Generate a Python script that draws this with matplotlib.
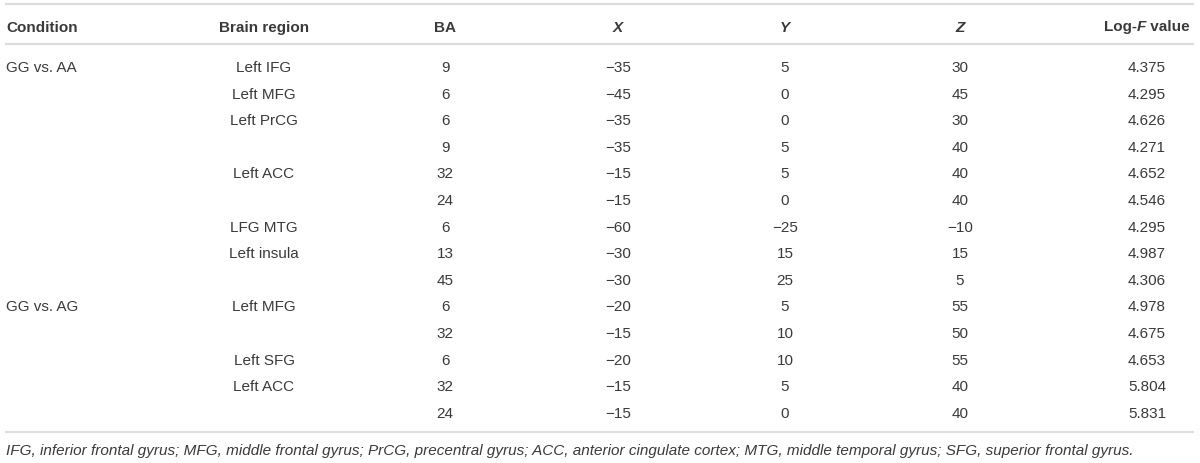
import matplotlib
matplotlib.use('Agg')
from matplotlib import pyplot as plt
from matplotlib.offsetbox import TextArea, HPacker, AnnotationBbox

conditions = ['GG vs. AA', '', '', '', '', '', '', '', '', 'GG vs. AG', '', '', '', '']
regions = ['Left IFG', 'Left MFG', 'Left PrCG', '', 'Left ACC', '', 'LFG MTG', 'Left insula', '',
           'Left MFG', '', 'Left SFG', 'Left ACC', '']
ba = [9, 6, 6, 9, 32, 24, 6, 13, 45, 6, 32, 6, 32, 24]
x_mni = [-35, -45, -35, -35, -15, -15, -60, -30, -30, -20, -15, -20, -15, -15]
y_mni = [5, 0, 0, 5, 5, 0, -25, 15, 25, 5, 10, 10, 5, 0]
z_mni = [30, 45, 30, 40, 40, 40, -10, 15, 5, 55, 50, 55, 40, 40]
log_f = [4.375, 4.295, 4.626, 4.271, 4.652, 4.546, 4.295, 4.987, 4.306, 4.978, 4.675, 4.653, 5.804, 5.831]
footnote = ('IFG, inferior frontal gyrus; MFG, middle frontal gyrus; PrCG, precentral gyrus; '
            'ACC, anterior cingulate cortex; MTG, middle temporal gyrus; SFG, superior frontal gyrus.')


def fmt(v):
    s = str(abs(v))
    return ('\u2212' + s) if v < 0 else s


plt.rcParams['font.family'] = ['Liberation Sans', 'DejaVu Sans']
txt = '#3a3a3a'
rule = '#dddddd'
fs = 11

W, H = 1200, 464
fig = plt.figure(figsize=(12, 4.64), dpi=100)
ax = fig.add_axes([0, 0, 1, 1])
ax.set_xlim(0, W)
ax.set_ylim(H, 0)
ax.axis('off')

# column anchors (x, alignment)
cols = [(6, 'left'), (264, 'center'), (445, 'center'), (618, 'center'),
        (785, 'center'), (960, 'center'), (1147, 'center')]

# horizontal rules
for yl in (5, 45, 433):
    ax.plot([5, 1194], [yl, yl], color=rule, lw=1.6, solid_capstyle='butt')

# header
hb = 32
for (cx, al), h in zip(cols[:3], ['Condition', 'Brain region', 'BA']):
    ax.text(cx, hb, h, ha=al, va='baseline', fontsize=fs, fontweight='bold', color=txt)
for (cx, al), h in zip(cols[3:6], ['X', 'Y', 'Z']):
    ax.text(cx, hb, h, ha=al, va='baseline', fontsize=fs, fontweight='bold',
            fontstyle='italic', color=txt)

bold = dict(fontsize=fs, fontweight='bold', color=txt)
boldit = dict(fontsize=fs, fontweight='bold', fontstyle='italic', color=txt)
pack = HPacker(children=[TextArea('Log-', textprops=bold), TextArea('F', textprops=boldit),
                         TextArea(' value', textprops=bold)],
               align='baseline', pad=0, sep=0)
ax.add_artist(AnnotationBbox(pack, (cols[6][0], hb - 5.3), box_alignment=(0.5, 0.5),
                             frameon=False, pad=0))

# body
row0, step = 72, 26.6
for i in range(len(ba)):
    yb = row0 + i * step
    vals = [conditions[i], regions[i], str(ba[i]), fmt(x_mni[i]), fmt(y_mni[i]),
            fmt(z_mni[i]), f'{log_f[i]:.3f}']
    for (cx, al), v in zip(cols, vals):
        if v:
            ax.text(cx, yb, v, ha=al, va='baseline', fontsize=fs, color=txt)

ax.text(6, 455, footnote, ha='left', va='baseline', fontsize=fs, fontstyle='italic', color=txt)

fig.savefig('out.png', dpi=100)
